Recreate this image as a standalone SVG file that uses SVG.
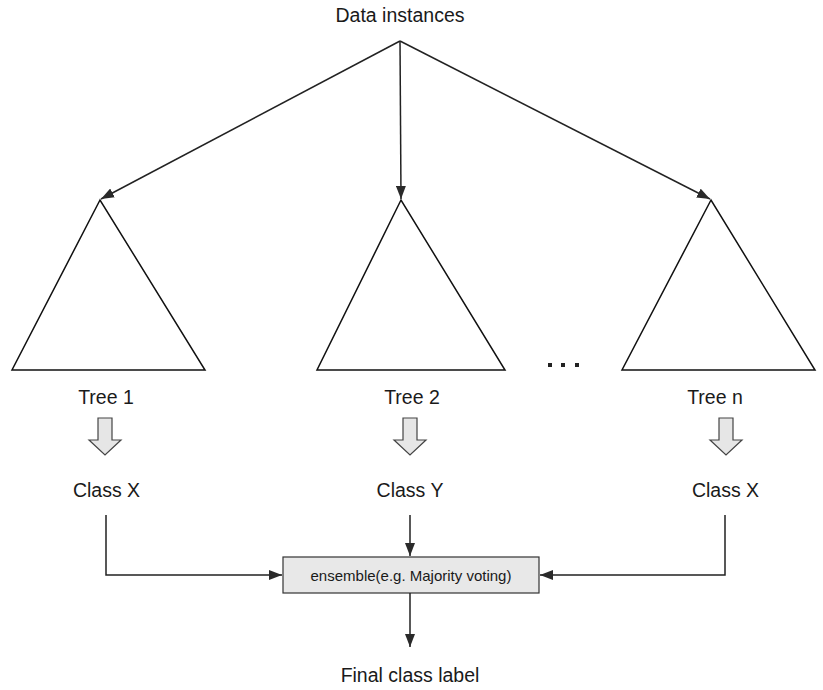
<svg xmlns="http://www.w3.org/2000/svg" width="823" height="690" viewBox="0 0 823 690">
<defs>
<style>
text{font-family:"Liberation Sans",Arial,sans-serif;font-size:19.5px;fill:#1a1a1a;text-anchor:middle}
.ln{stroke:#222;stroke-width:1.5;fill:none}
.tri{stroke:#111;stroke-width:1.5;fill:#fff}
.blk{fill:#e6e6e6;stroke:#444;stroke-width:1.2}
</style>
<marker id="ah" viewBox="0 0 13 10" refX="13" refY="5" markerWidth="13" markerHeight="10" markerUnits="userSpaceOnUse" orient="auto">
<path d="M0,0 L13,5 L0,10 Z" fill="#2a2a2a"/>
</marker>
</defs>
<rect width="823" height="690" fill="#fff"/>
<g id="data"><text x="400" y="22">Data instances</text></g>
<g id="tree1"><polygon class="tri" points="100,200 12,370 205,370"/><text x="106" y="404">Tree 1</text></g>
<g id="tree2"><polygon class="tri" points="401,200 317,370 505,370"/><text x="412" y="404">Tree 2</text></g>
<g id="treen"><polygon class="tri" points="711,200 622,370 815,370"/><text x="715" y="404">Tree n</text></g>
<g id="dots" fill="#222"><rect x="548" y="363" width="4" height="4"/><rect x="561" y="363" width="4" height="4"/><rect x="575" y="363" width="4" height="4"/></g>
<g id="blk1"><polygon class="blk" points="98,418 112,418 112,440 121,440 105,455 89,440 98,440"/></g>
<g id="blk2"><polygon class="blk" points="403,418 417,418 417,440 426,440 410,455 394,440 403,440"/></g>
<g id="blkn"><polygon class="blk" points="719,418 733,418 733,440 742,440 726,455 710,440 719,440"/></g>
<g id="c1"><text x="106.5" y="497">Class X</text></g>
<g id="c2"><text x="410" y="497">Class Y</text></g>
<g id="cn"><text x="725.5" y="497">Class X</text></g>
<g id="ens"><rect x="283" y="557" width="256" height="36" fill="#e8e8e8" stroke="#333" stroke-width="1.2"/><text x="411" y="581" style="font-size:15px">ensemble(e.g. Majority voting)</text></g>
<g id="final"><text x="410" y="682">Final class label</text></g>
<g id="connectors">
<line class="ln" x1="400" y1="41" x2="101" y2="199" marker-end="url(#ah)"/>
<line class="ln" x1="400" y1="41" x2="401" y2="199" marker-end="url(#ah)"/>
<line class="ln" x1="400" y1="41" x2="710" y2="199" marker-end="url(#ah)"/>
<polyline class="ln" points="106,515 106,575 282,575" marker-end="url(#ah)"/>
<polyline class="ln" points="725,515 725,575 540,575" marker-end="url(#ah)"/>
<line class="ln" x1="410" y1="515" x2="410" y2="556" marker-end="url(#ah)"/>
<line class="ln" x1="410" y1="593" x2="410" y2="647" marker-end="url(#ah)"/>
</g>
</svg>
